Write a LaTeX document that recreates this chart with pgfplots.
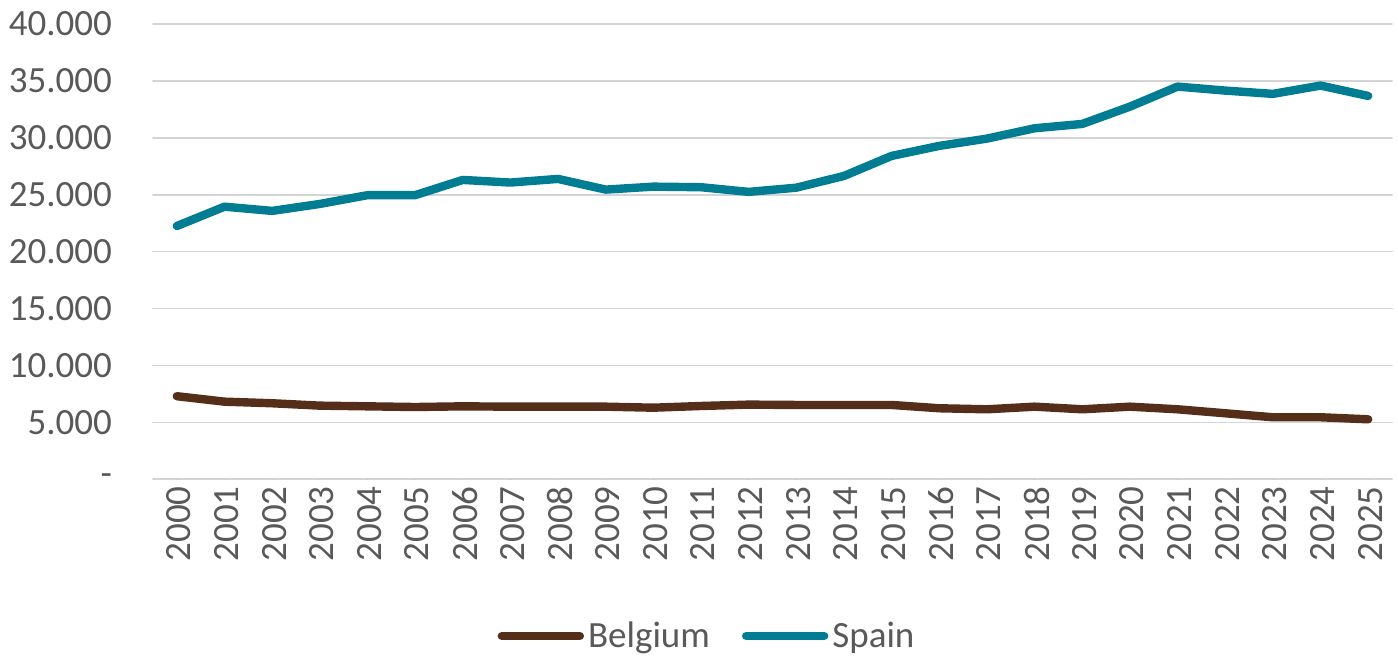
\documentclass[border=0pt]{standalone}
\usepackage{pgfplots}
\pgfplotsset{compat=1.18}
\usepackage{fontspec}
\setmainfont{Carlito}
\definecolor{txt}{HTML}{595959}
\definecolor{gridc}{HTML}{D4D4D4}
\definecolor{spain}{HTML}{007D92}
\definecolor{belg}{HTML}{552E19}
\begin{document}
\begin{tikzpicture}
\begin{axis}[
  scale only axis,
  width=619.5pt, height=227.65pt,
  xmin=-0.5, xmax=25.5, ymin=0, ymax=40000,
  scaled y ticks=false, scaled x ticks=false,
  xtick={0,...,25},
  xticklabels={2000,2001,2002,2003,2004,2005,2006,2007,2008,2009,2010,2011,2012,2013,2014,2015,2016,2017,2018,2019,2020,2021,2022,2023,2024,2025},
  ytick={0,5000,...,40000},
  yticklabels={{-},{5.000},{10.000},{15.000},{20.000},{25.000},{30.000},{35.000},{40.000}},
  ymajorgrids, major grid style={gridc, line width=0.8pt},
  axis line style={draw=none},
  major tick length=0pt,
  tick label style={font=\fontsize{18.5}{22}\selectfont, text=txt},
  yticklabel style={anchor=east, xshift=-17pt},
  xticklabel style={rotate=90, anchor=east, xshift=0pt, yshift=-1pt},
  legend style={draw=none, fill=none, at={(0.448,-0.344)}, anchor=center,
    font=\fontsize{18.5}{22}\selectfont, text=txt, legend columns=2,
    /tikz/every even column/.append style={column sep=14pt}},
  legend image code/.code={\draw[#1, line width=4.2pt, line cap=round] (2pt,0pt) -- (41pt,0pt);},
  line join=round, line cap=round,
]
\addplot[belg, line width=4.2pt, mark=none] coordinates {
(0,7300) (1,6820) (2,6680) (3,6470) (4,6410) (5,6350) (6,6410) (7,6380) (8,6380) (9,6380) (10,6290) (11,6440) (12,6560) (13,6530) (14,6530) (15,6530) (16,6240) (17,6150) (18,6380) (19,6150) (20,6380) (21,6150) (22,5800) (23,5450) (24,5450) (25,5270)};
\addlegendentry{Belgium}
\addplot[spain, line width=4.2pt, mark=none] coordinates {
(0,22250) (1,23950) (2,23580) (3,24190) (4,24960) (5,24960) (6,26300) (7,26070) (8,26390) (9,25450) (10,25710) (11,25660) (12,25250) (13,25620) (14,26650) (15,28410) (16,29290) (17,29930) (18,30840) (19,31220) (20,32740) (21,34500) (22,34150) (23,33860) (24,34590) (25,33680)};
\addlegendentry{Spain}
\end{axis}
\path (current axis.south west) ++(-76.5pt,-87.35pt) coordinate (bbA);
\path (current axis.north east) ++(3pt,12pt) coordinate (bbB);
\path (bbA) rectangle (bbB);
\end{tikzpicture}
\end{document}
